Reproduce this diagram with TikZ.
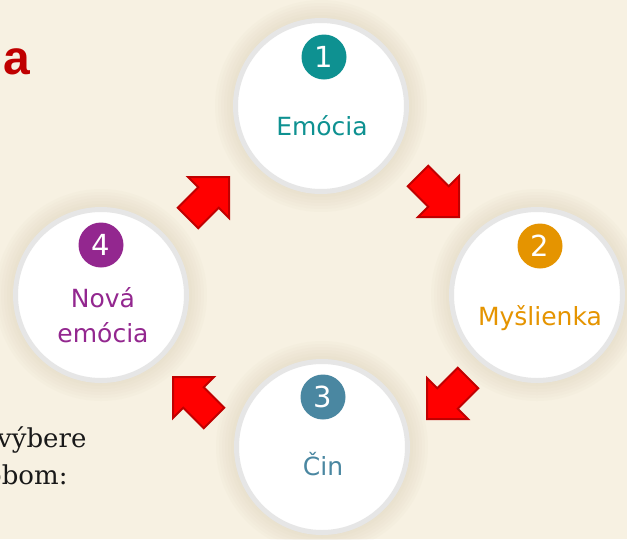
\documentclass[tikz,border=0pt]{standalone}
\usepackage{fontspec}
\setmainfont{DejaVu Sans}
\newfontfamily\serifF{DejaVu Serif}
\newfontfamily\boldF{Liberation Sans}
\definecolor{bgc}{HTML}{F7F1E2}
\definecolor{shc}{HTML}{D8CDB4}
\definecolor{rimc}{HTML}{E6E6E6}
\definecolor{cteal}{HTML}{0E9191}
\definecolor{corange}{HTML}{E59400}
\definecolor{cblue}{HTML}{4A87A1}
\definecolor{cpurple}{HTML}{93278F}
\definecolor{ared}{HTML}{FF0000}
\definecolor{adark}{HTML}{C00000}
\definecolor{titlered}{HTML}{C00000}
\tikzset{
  bubble/.style={circle, fill=white, draw=rimc, line width=5pt, minimum size=171pt, inner sep=0pt},
  badge/.style={circle, minimum size=45pt, inner sep=0pt, text=white, font=\fontsize{29}{29}\selectfont},
  lbl/.style={anchor=base, font=\fontsize{25}{25}\selectfont, inner sep=0pt},
  sidetext/.style={anchor=base west, inner sep=0pt, text=black!90, font=\serifF\fontsize{26}{26}\selectfont},
  blockarrow/.style={fill=ared, draw=adark, line width=2pt, line join=miter},
}
\newcommand{\blockarr}[3]{%
  \draw[blockarrow, shift={(#1,#2)}, rotate=#3]
    (0,0) -- (-29,29) -- (-29,14.5) -- (-58,14.5) -- (-58,-14.5) -- (-29,-14.5) -- (-29,-29) -- cycle;}
\begin{document}
\begin{tikzpicture}[x=1pt,y=-1pt]
\useasboundingbox (0,0) rectangle (627,539);
\clip (0,0) rectangle (627,539);
\fill[bgc] (0,0) rectangle (627,539);
% side texts
\node[anchor=base west, inner sep=0pt, text=titlered, font=\boldF\bfseries\fontsize{48}{48}\selectfont] (ta) at (3,74) {a};
\node[sidetext] (tb) at (-3,447) {výbere};
\node[sidetext] (tc) at (-14,484) {obom:};
% shadows
\foreach \cx/\cy in {321/106, 537/295, 322/447, 101/295}{
  \foreach \r in {106,103,...,86}{
    \fill[shc, opacity=0.07] (\cx,\cy) circle (\r);
  }
}
% bubbles
\node[bubble] (c1) at (321,106) {};
\node[bubble] (c2) at (537,295) {};
\node[bubble] (c3) at (322,447) {};
\node[bubble] (c4) at (101,295) {};
% badges
\node[badge, fill=cteal] (b1) at (324,57) {1};
\node[badge, fill=corange] (b2) at (540,246) {2};
\node[badge, fill=cblue] (b3) at (323,397) {3};
\node[badge, fill=cpurple] (b4) at (101,245) {4};
% labels
\node[lbl, text=cteal] (l1) at (322,135) {Emócia};
\node[lbl, text=corange] (l2) at (540,325) {Myšlienka};
\node[lbl, text=cblue] (l3) at (323,475) {Čin};
\node[lbl, text=cpurple] (l4a) at (103,307) {Nová};
\node[lbl, text=cpurple] (l4b) at (103,342) {emócia};
% block arrows
\blockarr{229}{177}{45}
\blockarr{459}{217}{-45}
\blockarr{427}{419}{-135}
\blockarr{173}{377}{135}
\end{tikzpicture}
\end{document}
